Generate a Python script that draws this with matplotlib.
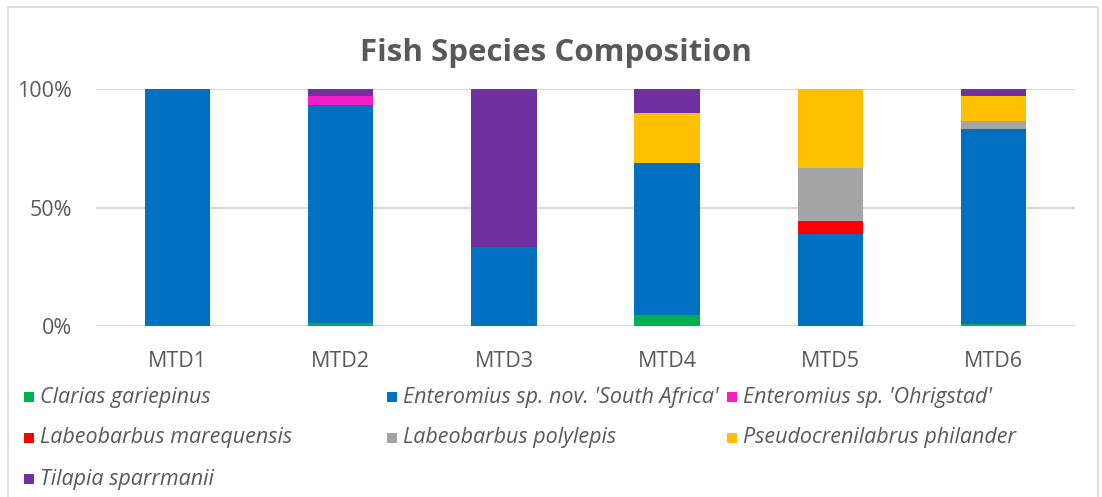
import matplotlib
matplotlib.use("Agg")
import matplotlib.pyplot as plt
from matplotlib.patches import Rectangle
import numpy as np

plt.rcParams['font.family'] = ['Open Sans', 'DejaVu Sans']

sites = ["MTD1", "MTD2", "MTD3", "MTD4", "MTD5", "MTD6"]
species = [
    "Clarias gariepinus",
    "Enteromius sp. nov. 'South Africa'",
    "Enteromius sp. 'Ohrigstad'",
    "Labeobarbus marequensis",
    "Labeobarbus polylepis",
    "Pseudocrenilabrus philander",
    "Tilapia sparrmanii",
]
colors = ["#00B050", "#0070C0", "#F01FC8", "#FF0000", "#A5A5A5", "#FFC000", "#7030A0"]

# percentage of catch per site, one list per species (MTD1..MTD6)
clarias = [0.0, 1.4, 0.0, 4.6, 0.0, 0.7]
enteromius_sa = [100.0, 92.0, 33.3, 64.0, 38.9, 82.5]
enteromius_ohr = [0.0, 3.5, 0.0, 0.0, 0.0, 0.0]
labeo_mareq = [0.0, 0.0, 0.0, 0.0, 5.6, 0.0]
labeo_poly = [0.0, 0.0, 0.0, 0.0, 22.2, 3.2]
pseudocren = [0.0, 0.0, 0.0, 21.1, 33.3, 10.8]
tilapia = [0.0, 3.1, 66.7, 10.3, 0.0, 2.8]

series = [clarias, enteromius_sa, enteromius_ohr, labeo_mareq, labeo_poly, pseudocren, tilapia]

W, H = 1102, 497
fig = plt.figure(figsize=(W / 100, H / 100), dpi=100)
fig.patch.set_facecolor("white")

# chart border
fig.add_artist(Rectangle((8 / W, -0.01), (1098 - 8) / W, 1 - 7 / H + 0.01,
                         transform=fig.transFigure, fill=False,
                         edgecolor="#D9D9D9", linewidth=1.2))

ax_l, ax_r = 96, 1075
ax_t, ax_b = 89, 326
ax = fig.add_axes([ax_l / W, 1 - ax_b / H, (ax_r - ax_l) / W, (ax_b - ax_t) / H])

x = np.arange(len(sites))
bottom = np.zeros(len(sites))
for vals, col, name in zip(series, colors, species):
    v = np.array(vals)
    ax.bar(x, v, width=0.4, bottom=bottom, color=col, label=name,
           linewidth=0, zorder=3)
    bottom += v

ax.set_xlim(-0.5, len(sites) - 0.5)
ax.set_ylim(0, 100)
ax.set_yticks([0, 50, 100])
ax.set_yticklabels(["0%", "50%", "100%"])
ax.set_xticks(x)
ax.set_xticklabels(sites)
ax.yaxis.grid(True, color="#D9D9D9", linewidth=1.5, zorder=0)
ax.set_axisbelow(True)
for s in ax.spines.values():
    s.set_visible(False)
ax.tick_params(axis="both", length=0, colors="#595959", labelsize=15.5)
ax.tick_params(axis="y", pad=17)
ax.tick_params(axis="x", pad=18)

fig.text(556 / W, 1 - 53 / H, "Fish Species Composition", ha="center", va="center",
         fontsize=22.5, fontweight="bold", color="#595959")

# legend, three per row
col_x = [24, 387, 727]
row_y = [397, 438, 479]
for i, (name, col) in enumerate(zip(species, colors)):
    cx = col_x[i % 3]
    cy = row_y[i // 3]
    fig.add_artist(Rectangle((cx / W, 1 - (cy + 5) / H), 10 / W, 10 / H,
                             transform=fig.transFigure, facecolor=col,
                             edgecolor="none"))
    fig.text((cx + 16) / W, 1 - cy / H, name, ha="left", va="center",
             fontsize=15.5, style="italic", color="#595959")

fig.savefig("out.png", dpi=100)
